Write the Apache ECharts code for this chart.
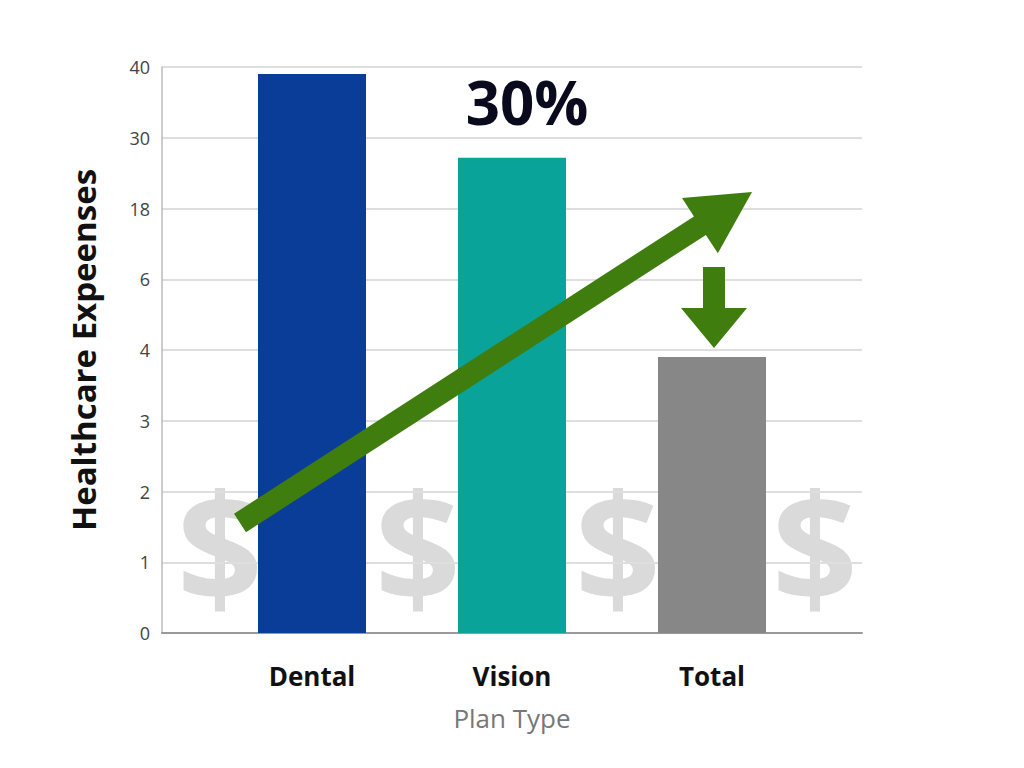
<!DOCTYPE html>
<html><head><meta charset="utf-8">
<script src="https://cdn.jsdelivr.net/npm/echarts@6/dist/echarts.min.js"></script>
<style>html,body{margin:0;background:#fff}#main{width:1024px;height:768px}</style>
</head><body><div id="main"></div>
<script>
var chartDom = document.getElementById('main');
var myChart = echarts.init(chartDom, null, { renderer: 'svg' });

// blank slots keep the bars spaced like the original layout
const categories = ['', 'Dental', '', 'Vision', '', 'Total', ''];
const values = [null, 39, null, 26.6, null, 3.9, null];
const tickLabels = [0, 1, 2, 3, 4, 6, 18, 30, 40];
const colors = [null, '#0a3d98', null, '#0aa39a', null, '#878787', null];

// uneven tick labels are spaced evenly; map a value to its tick position
function toPos(v) {
    for (let i = 1; i < tickLabels.length; i++) {
        if (v <= tickLabels[i]) {
            return i - 1 + (v - tickLabels[i - 1]) / (tickLabels[i] - tickLabels[i - 1]);
        }
    }
    return tickLabels.length - 1;
}

function arrowPoly(x1, y1, x2, y2, shaft, headW, headL) {
    const dx = x2 - x1, dy = y2 - y1, len = Math.hypot(dx, dy);
    const ux = dx / len, uy = dy / len, px = -uy, py = ux;
    const bx = x2 - ux * headL, by = y2 - uy * headL;
    return [
        [x1 + px * shaft / 2, y1 + py * shaft / 2],
        [bx + px * shaft / 2, by + py * shaft / 2],
        [bx + px * headW / 2, by + py * headW / 2],
        [x2, y2],
        [bx - px * headW / 2, by - py * headW / 2],
        [bx - px * shaft / 2, by - py * shaft / 2],
        [x1 - px * shaft / 2, y1 - py * shaft / 2]
    ];
}

const dollarX = [220, 418, 618, 815];
const graphics = dollarX.map(x => ({
    type: 'text', x: x, y: 545, z: 0,
    style: { text: '$', font: 'bold 150px "Open Sans", sans-serif', fill: '#dadada', align: 'center', verticalAlign: 'middle' }
}));
graphics.push({
    type: 'polygon', z: 10,
    shape: { points: arrowPoly(240, 523, 752, 192, 22, 66, 62) },
    style: { fill: '#3f7d0e' }
});
graphics.push({
    type: 'polygon', z: 10,
    shape: { points: arrowPoly(714, 267, 714, 348, 22, 66, 40) },
    style: { fill: '#3f7d0e' }
});
graphics.push({
    type: 'text', x: 527, y: 102, z: 10,
    style: { text: '30%', font: 'bold 60px "Open Sans", sans-serif', fill: '#0a0a1e', align: 'center', verticalAlign: 'middle' }
});

var option = {
    backgroundColor: '#ffffff',
    grid: { left: 162, right: 162, top: 67, bottom: 135 },
    xAxis: {
        type: 'category',
        data: categories,
        name: 'Plan Type',
        nameLocation: 'middle',
        nameGap: 72,
        nameTextStyle: { fontSize: 26, color: '#777', fontFamily: 'Open Sans' },
        axisLine: { lineStyle: { color: '#999', width: 2 } },
        axisTick: { show: false },
        axisLabel: { interval: 0, fontSize: 26, fontWeight: 'bold', color: '#111', margin: 30, fontFamily: 'Open Sans' }
    },
    yAxis: {
        type: 'value',
        min: 0, max: 8, interval: 1,
        name: 'Healthcare Expeenses',
        nameLocation: 'middle',
        nameGap: 62,
        nameTextStyle: { fontSize: 33, fontWeight: 'bold', color: '#111', fontFamily: 'Open Sans' },
        axisLine: { show: true, lineStyle: { color: '#bbb', width: 1.5 } },
        axisLabel: { formatter: v => String(tickLabels[v]), fontSize: 18, color: '#444', margin: 12, fontFamily: 'Open Sans' },
        splitLine: { lineStyle: { color: '#dedede', width: 2 } }
    },
    series: [{
        type: 'bar',
        barWidth: 108,
        z: 5,
        data: values.map((v, i) => v === null ? null : ({ value: toPos(v), itemStyle: { color: colors[i] } }))
    }],
    graphic: graphics
};
option && myChart.setOption(option);
</script></body></html>
